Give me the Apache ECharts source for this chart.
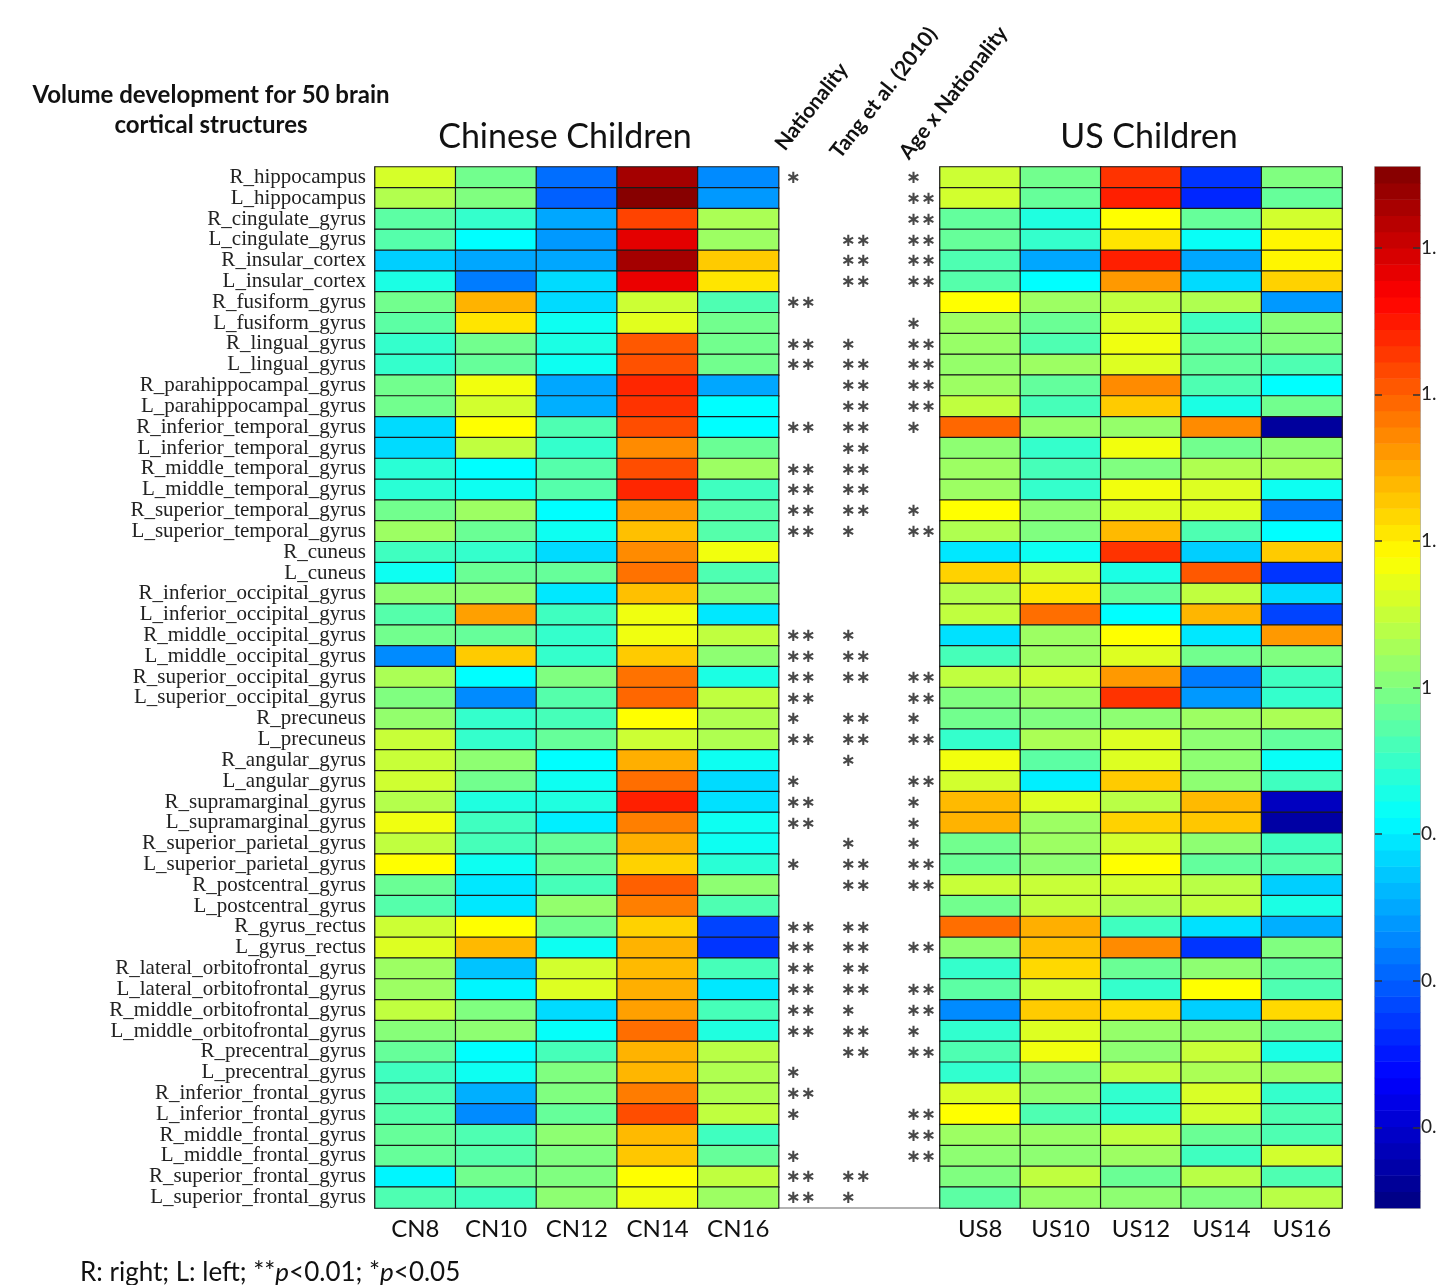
<!DOCTYPE html>
<html>
<head>
<meta charset="utf-8">
<script src="https://cdn.jsdelivr.net/npm/echarts@6/dist/echarts.min.js"></script>
<style>html,body{margin:0;padding:0;background:#fff;}#c{width:1436px;height:1285px;}</style>
</head>
<body>
<div id="c"></div>
<script>
const ROWS = ['R_hippocampus','L_hippocampus','R_cingulate_gyrus','L_cingulate_gyrus','R_insular_cortex','L_insular_cortex','R_fusiform_gyrus','L_fusiform_gyrus','R_lingual_gyrus','L_lingual_gyrus','R_parahippocampal_gyrus','L_parahippocampal_gyrus','R_inferior_temporal_gyrus','L_inferior_temporal_gyrus','R_middle_temporal_gyrus','L_middle_temporal_gyrus','R_superior_temporal_gyrus','L_superior_temporal_gyrus','R_cuneus','L_cuneus','R_inferior_occipital_gyrus','L_inferior_occipital_gyrus','R_middle_occipital_gyrus','L_middle_occipital_gyrus','R_superior_occipital_gyrus','L_superior_occipital_gyrus','R_precuneus','L_precuneus','R_angular_gyrus','L_angular_gyrus','R_supramarginal_gyrus','L_supramarginal_gyrus','R_superior_parietal_gyrus','L_superior_parietal_gyrus','R_postcentral_gyrus','L_postcentral_gyrus','R_gyrus_rectus','L_gyrus_rectus','R_lateral_orbitofrontal_gyrus','L_lateral_orbitofrontal_gyrus','R_middle_orbitofrontal_gyrus','L_middle_orbitofrontal_gyrus','R_precentral_gyrus','L_precentral_gyrus','R_inferior_frontal_gyrus','L_inferior_frontal_gyrus','R_middle_frontal_gyrus','L_middle_frontal_gyrus','R_superior_frontal_gyrus','L_superior_frontal_gyrus'];
const CN_COLS = ['CN8','CN10','CN12','CN14','CN16'];
const US_COLS = ['US8','US10','US12','US14','US16'];
const SIG_COLS = ['Nationality','Tang et al. (2010)','Age x Nationality'];

const cn8  = [1.06,1.035,0.975,0.97,0.878,0.93,0.99,0.975,0.947,0.947,0.99,0.99,0.886,0.886,0.94,0.94,0.99,1.02,0.955,0.92,1.01,0.97,0.99,0.83,1.03,1.0,1.013,1.05,1.05,1.055,1.036,1.078,1.045,1.089,0.985,0.97,1.053,1.065,1.02,1.02,1.045,1.005,0.982,0.955,0.965,0.97,0.982,0.982,0.905,0.965];
const cn10 = [0.99,1.0,0.947,0.911,0.85,0.82,1.142,1.107,0.99,0.982,1.08,1.057,1.089,1.045,0.911,0.92,1.02,0.985,0.947,0.985,1.01,1.155,0.982,1.125,0.911,0.83,0.947,0.947,1.01,0.99,0.933,0.955,0.96,0.92,0.895,0.895,1.089,1.138,0.87,0.905,1.0,1.01,0.911,0.92,0.855,0.83,0.965,0.97,0.99,0.955];
const cn12 = [0.81,0.80,0.85,0.84,0.85,0.886,0.886,0.92,0.93,0.92,0.85,0.855,0.965,0.947,0.97,0.97,0.911,0.92,0.886,0.982,0.895,0.955,0.947,0.947,1.0,0.97,0.96,0.982,0.911,0.92,0.933,0.9,0.982,0.985,0.96,1.013,0.99,0.92,1.057,1.065,0.886,0.915,0.96,1.0,1.0,0.982,1.01,1.0,1.0,1.01];
const cn14 = [1.33,1.35,1.22,1.285,1.33,1.28,1.053,1.068,1.205,1.21,1.24,1.231,1.213,1.17,1.213,1.24,1.16,1.133,1.17,1.187,1.133,1.078,1.078,1.125,1.187,1.195,1.089,1.053,1.145,1.19,1.245,1.178,1.145,1.12,1.2,1.178,1.12,1.142,1.137,1.145,1.155,1.19,1.142,1.14,1.18,1.213,1.137,1.128,1.089,1.078];
const cn16 = [0.83,0.84,1.03,1.02,1.125,1.107,0.965,0.99,0.99,0.99,0.85,0.911,0.911,0.985,1.02,0.955,0.97,0.97,1.08,0.965,1.0,0.895,1.045,1.01,0.93,1.045,1.033,1.033,0.92,0.886,0.89,0.92,0.92,0.94,1.01,0.965,0.78,0.77,0.96,0.895,0.96,0.933,1.04,1.033,1.033,1.045,0.955,0.982,1.045,1.02];

const us8  = [1.053,1.057,0.98,0.982,0.965,0.97,1.089,1.02,1.017,1.015,1.02,1.045,1.195,1.01,1.02,1.02,1.089,1.033,0.895,1.12,1.036,1.045,0.89,0.96,1.045,1.0,0.99,0.947,1.08,1.057,1.137,1.142,0.99,0.985,1.05,0.99,1.19,1.01,0.947,0.975,0.83,0.945,0.965,0.945,1.062,1.089,1.02,1.01,1.0,0.975];
const us10 = [0.99,0.982,0.933,0.947,0.85,0.911,1.02,0.985,0.965,1.02,0.98,0.96,1.015,0.947,0.96,0.947,1.01,1.0,0.92,1.053,1.107,1.19,1.02,1.02,1.053,1.02,1.0,1.03,0.975,0.9,1.065,1.02,1.02,1.01,1.05,1.045,1.145,1.133,1.115,1.057,1.125,1.065,1.08,1.0,1.01,0.965,1.017,1.01,1.045,1.017];
const us12 = [1.231,1.245,1.089,1.107,1.245,1.16,1.045,1.065,1.078,1.065,1.17,1.125,1.015,1.08,1.0,1.08,1.065,1.137,1.231,0.93,0.982,0.911,1.089,1.065,1.16,1.231,1.01,1.065,1.065,1.125,1.04,1.12,1.057,1.089,1.057,1.033,0.955,1.17,0.985,0.947,1.115,1.015,1.01,1.045,0.945,0.945,1.045,1.02,0.985,1.01];
const us14 = [0.77,0.76,0.982,0.917,0.85,0.886,1.033,0.955,0.98,0.98,0.965,0.93,1.17,0.99,1.033,1.065,1.065,0.965,0.878,1.205,1.045,1.14,0.895,0.99,0.82,0.84,1.02,1.01,1.01,1.01,1.137,1.128,1.01,0.98,1.04,1.045,0.89,0.77,1.01,1.089,0.878,1.015,1.05,1.03,1.062,1.057,0.985,0.955,1.04,1.0];
const us16 = [1.0,0.982,1.057,1.095,1.095,1.12,0.84,1.005,1.0,0.965,0.911,0.99,0.665,1.01,1.03,0.92,0.82,0.911,1.125,0.77,0.886,0.78,1.16,1.0,0.955,0.947,1.03,0.98,0.917,0.955,0.69,0.67,0.955,0.97,0.878,0.93,0.855,1.0,0.982,0.965,1.115,0.985,0.93,1.017,0.947,0.965,0.965,1.057,0.965,1.04];

// significance: 0 none, 1 = *p<0.05, 2 = **p<0.01
const natSig  = [1,0,0,0,0,0,2,0,2,2,0,0,2,0,2,2,2,2,0,0,0,0,2,2,2,2,1,2,0,1,2,2,0,1,0,0,2,2,2,2,2,2,0,1,2,1,0,1,2,2];
const tangSig = [0,0,0,2,2,2,0,0,1,2,2,2,2,2,2,2,2,1,0,0,0,0,1,2,2,0,2,2,1,0,0,0,1,2,2,0,2,2,2,2,1,2,2,0,0,0,0,0,2,1];
const ageSig  = [1,2,2,2,2,2,0,1,2,2,2,2,1,0,0,0,1,2,0,0,0,0,0,0,2,2,1,2,0,2,1,1,1,2,2,0,0,2,0,2,2,1,2,0,0,2,2,2,0,0];

const CB_MIN = 0.645, CB_MAX = 1.355;
const CB_TICKS = [0.7,0.8,0.9,1.0,1.1,1.2,1.3];

const JET = ['#000080','#0000ff','#0080ff','#00ffff','#80ff80','#ffff00','#ff8000','#ff0000','#800000'];

const cnCols = [cn8, cn10, cn12, cn14, cn16];
const usCols = [us8, us10, us12, us14, us16];
const cnData = [], usData = [];
cnCols.forEach((col, c) => col.forEach((v, r) => cnData.push([c, r, v])));
usCols.forEach((col, c) => col.forEach((v, r) => usData.push([c, r, v])));

const N_LEVELS = 64;
const cbCats = [], cbData = [];
for (let k = 0; k < N_LEVELS; k++) {
  cbCats.push(String(k));
  cbData.push([0, k, CB_MIN + (k + 0.5) * (CB_MAX - CB_MIN) / N_LEVELS]);
}

const SIG_POS = [5.08, 5.76, 6.57];
function starData(sig, p) {
  const out = [];
  sig.forEach((n, r) => { if (n > 0) out.push([p, r, n]); });
  return out;
}
const starSeries = [natSig, tangSig, ageSig].map((sig, i) => ({
  type: 'scatter', xAxisIndex: 1, yAxisIndex: 0, name: SIG_COLS[i],
  data: starData(sig, SIG_POS[i]), symbolSize: 1,
  itemStyle: { color: 'rgba(0,0,0,0)' }, silent: true,
  label: {
    show: true, position: 'right', distance: 0,
    formatter: p => '\u2217'.repeat(p.value[2]),
    fontFamily: 'DejaVu Sans', fontSize: 18, fontWeight: 'bold', color: '#1a1a1a', offset: [0, 1]
  }
}));

const fmt = v => (Math.round(v * 10) / 10).toString();
const noBounds = { outerBoundsMode: 'none', containLabel: false };

const chart = echarts.init(document.getElementById('c'), null, { renderer: 'canvas' });
chart.setOption({
  animation: false,
  backgroundColor: '#fff',
  grid: [
    Object.assign({ left: 375, top: 167, width: 565, height: 1041, show: false }, noBounds),
    Object.assign({ left: 940, top: 167, width: 402, height: 1041, show: true, borderColor: '#aaa', borderWidth: 1.5, backgroundColor: 'transparent' }, noBounds),
    Object.assign({ left: 1375, top: 167, width: 45, height: 1041, show: true, borderColor: '#999', borderWidth: 1.5, backgroundColor: 'transparent' }, noBounds)
  ],
  xAxis: [
    { type: 'category', gridIndex: 0, data: CN_COLS.concat(['', '']),
      axisLine: { show: true, lineStyle: { color: '#999', width: 1.5 } }, axisTick: { show: false },
      axisLabel: { fontFamily: 'Lato', fontSize: 24, color: '#111', margin: 9, interval: 0 }, splitLine: { show: false } },
    { type: 'value', gridIndex: 0, min: 0, max: 7, show: false },
    { type: 'category', gridIndex: 1, data: US_COLS,
      axisLine: { show: false }, axisTick: { show: false },
      axisLabel: { fontFamily: 'Lato', fontSize: 24, color: '#111', margin: 9, interval: 0 }, splitLine: { show: false } },
    { type: 'category', gridIndex: 2, data: ['cb'], show: false }
  ],
  yAxis: [
    { type: 'category', gridIndex: 0, data: ROWS, inverse: true,
      axisLine: { show: true, lineStyle: { color: '#999', width: 1.5 } }, axisTick: { show: false },
      axisLabel: { fontFamily: 'Liberation Serif', fontSize: 21, color: '#222', margin: 9, interval: 0 }, splitLine: { show: false } },
    { type: 'category', gridIndex: 1, data: ROWS, inverse: true, show: false },
    { type: 'category', gridIndex: 2, data: cbCats, show: false },
    { type: 'value', gridIndex: 2, min: CB_MIN, max: CB_MAX, position: 'right', z: 20,
      axisLine: { show: false }, splitLine: { show: false },
      axisTick: { show: true, inside: true, length: 7, lineStyle: { color: '#333', width: 1.5 }, customValues: CB_TICKS },
      axisLabel: { show: true, customValues: CB_TICKS, formatter: fmt, fontFamily: 'Lato', fontSize: 19, color: '#222', margin: 1 } },
    { type: 'value', gridIndex: 2, min: CB_MIN, max: CB_MAX, position: 'left', z: 20,
      axisLine: { show: false }, splitLine: { show: false },
      axisTick: { show: true, inside: true, length: 7, lineStyle: { color: '#333', width: 1.5 }, customValues: CB_TICKS },
      axisLabel: { show: false } }
  ],
  visualMap: {
    type: 'continuous', show: false, min: CB_MIN, max: CB_MAX, dimension: 2,
    seriesIndex: [0, 1, 2], inRange: { color: JET }
  },
  series: [
    { type: 'heatmap', xAxisIndex: 0, yAxisIndex: 0, data: cnData, silent: true,
      itemStyle: { borderColor: '#1a1a1a', borderWidth: 1.2 } },
    { type: 'heatmap', xAxisIndex: 2, yAxisIndex: 1, data: usData, silent: true,
      itemStyle: { borderColor: '#1a1a1a', borderWidth: 1.2 } },
    { type: 'heatmap', xAxisIndex: 3, yAxisIndex: 2, data: cbData, silent: true, z: 1,
      itemStyle: { borderWidth: 0 } }
  ].concat(starSeries),
  graphic: [
    { type: 'text', x: 211, y: 95, style: { text: 'Volume development for 50 brain', fontFamily: 'Lato', fontWeight: 'bold', fontSize: 24, fill: '#111', textAlign: 'center', textVerticalAlign: 'middle' } },
    { type: 'text', x: 211, y: 125, style: { text: 'cortical structures', fontFamily: 'Lato', fontWeight: 'bold', fontSize: 24, fill: '#111', textAlign: 'center', textVerticalAlign: 'middle' } },
    { type: 'text', x: 565, y: 137, style: { text: 'Chinese Children', fontFamily: 'Lato', fontSize: 34, fill: '#111', textAlign: 'center', textVerticalAlign: 'middle' } },
    { type: 'text', x: 1149, y: 137, style: { text: 'US Children', fontFamily: 'Lato', fontSize: 34, fill: '#111', textAlign: 'center', textVerticalAlign: 'middle' } },
    { type: 'text', x: 788, y: 154, rotation: 52 * Math.PI / 180, style: { text: SIG_COLS[0], fontFamily: 'Lato', fontWeight: 'bold', fontSize: 21, fill: '#111', textAlign: 'left', textVerticalAlign: 'bottom' } },
    { type: 'text', x: 843, y: 162, rotation: 52 * Math.PI / 180, style: { text: SIG_COLS[1], fontFamily: 'Lato', fontWeight: 'bold', fontSize: 21, fill: '#111', textAlign: 'left', textVerticalAlign: 'bottom' } },
    { type: 'text', x: 912, y: 163, rotation: 52 * Math.PI / 180, style: { text: SIG_COLS[2], fontFamily: 'Lato', fontWeight: 'bold', fontSize: 21, fill: '#111', textAlign: 'left', textVerticalAlign: 'bottom' } },
    { type: 'text', x: 80, y: 1273, style: {
        text: 'R: right; L: left; **{i|p}<0.01; *{i|p}<0.05', fontFamily: 'Lato', fontSize: 26, fill: '#111', textVerticalAlign: 'middle',
        rich: { i: { fontStyle: 'italic', fontFamily: 'Lato', fontSize: 26, fill: '#111' } } } }
  ]
});
</script>
</body>
</html>
